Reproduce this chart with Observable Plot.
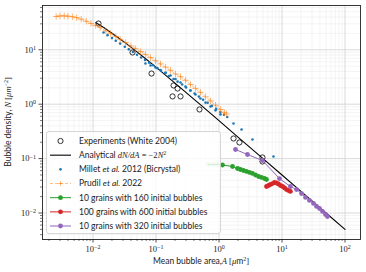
<!DOCTYPE html>
<html><head><meta charset="utf-8">
<script src="https://cdn.jsdelivr.net/npm/d3@7"></script>
<script src="https://cdn.jsdelivr.net/npm/@observablehq/plot@0.6"></script>
<style>
body{margin:0;background:#fff;}
#c{position:relative;width:366px;height:272px;}
</style></head><body><div id="c"></div>
<script>
// ---- data ----
const expA = [0.01223,0.0424,0.0849,0.190,0.220,0.183,0.245,0.490,1.70,2.11,4.90,4.90];
const expN = [30.4,8.92,3.66,2.21,1.94,1.39,1.39,0.80,0.234,0.198,0.105,0.0885];

const anaA = [0.011,0.015,0.02,0.03,0.05,0.07,0.1,0.2,0.5,1,2,5,10,20,50,100];
const anaN = [31.8,25.4,20.2,14.4,9.14,6.69,4.79,2.44,0.991,0.498,0.249,0.0999,0.05,0.025,0.01,0.005];

const milletA = [0.0147,0.017,0.02,0.023,0.027,0.032,0.037,0.043,0.05,0.058,0.067,0.078,0.09,0.105,0.12,0.14,0.16,0.19,0.22,0.26,0.30,0.35,0.41,0.48,0.56,0.66,0.77,0.9,1.05,1.2,1.35,1.70,2.28,3.40,7.33,
  0.068,0.082,0.098,0.118,0.142,0.170,0.204,0.245,0.294,0.353,0.424,0.508,0.611,0.733,0.88,1.056];
const milletN = [20.8,18.6,16.4,14.7,13.0,11.4,10.2,9.1,8.1,7.2,6.5,5.8,5.2,4.6,4.1,3.7,3.3,2.9,2.6,2.3,2.03,1.79,1.57,1.38,1.21,1.06,0.93,0.82,0.72,0.64,0.58,0.441,0.343,0.224,0.109,
  5.60,5.14,4.73,4.26,3.83,3.37,2.91,2.50,2.12,1.79,1.51,1.27,1.07,0.91,0.77,0.65];

const prudilA = [0.0026,0.003,0.0035,0.004,0.0047,0.0055,0.0065,0.0078,0.0093,0.011,0.013,0.016,0.019,0.023,0.027,0.033,0.04,0.047,0.057,0.068,0.082,0.098,0.118,0.142,0.17,0.204,0.245,0.294,0.353,0.424,0.508,0.611,0.733,0.88,1.06,1.22,1.31];
const prudilN = [41,42,42,41.5,40.5,39,36.5,33.5,30.5,28,25.5,22.3,19.8,17.5,15.6,13.6,11.8,10.6,9.3,8.2,7.2,6.3,5.5,4.8,4.2,3.6,3.2,2.75,2.3,1.95,1.65,1.37,1.15,0.96,0.80,0.70,0.66];

const greenA = [0.681,0.818,0.946,1.137,1.64,1.97,2.19,2.45,2.73,3.05,3.40,3.80,4.24,4.73,5.28,5.68];
const greenN = [0.078,0.078,0.078,0.0762,0.0716,0.0658,0.0631,0.0604,0.0580,0.0556,0.0533,0.0500,0.0469,0.0450,0.0431,0.0413];

const redA = [5.68,6.11,6.56,7.06,7.60,8.18,8.79,9.46,10.2,11.0,11.8,12.7,13.6];
const redN = [0.0307,0.0320,0.0334,0.0348,0.0364,0.0356,0.0341,0.0320,0.0307,0.0288,0.0270,0.0259,0.0249];

const purpleA = [1.83,2.83,4.90,9.12,13.6,17.0,20.4,23.6,27.3,31.6,35.3,39.4,44.0,49.0,52.7];
const purpleN = [0.147,0.119,0.0922,0.0430,0.0307,0.0270,0.0228,0.0193,0.0170,0.0150,0.0132,0.0121,0.0107,0.00938,0.00863];

const majorX = [0.01,0.1,1,10,100];
const majorY = [0.01,0.1,1,10];
const xExp = ["−2","−1","0","1","2"];
const yExp = ["−2","−1","0","1"];

const legendLabels = [
  [["Experiments (White 2004)",0]],
  [["Analytical ",0],["dN/dA",1],[" = −2",2],["N",1],["2",3]],
  [["Millet ",0],["et al.",4],[" 2012 (Bicrystal)",0]],
  [["Prudil ",0],["et al.",4],[" 2022",0]],
  [["10 grains with 160 initial bubbles",0]],
  [["100 grains with 600 initial bubbles",0]],
  [["10 grains with 320 initial bubbles",0]]
];

// ---- tables ----
const zip = (A, N) => A.map((a, i) => ({A: a, N: N[i]}));
const exp = zip(expA, expN), ana = zip(anaA, anaN), millet = zip(milletA, milletN),
      prudil = zip(prudilA, prudilN), green = zip(greenA, greenN), red = zip(redA, redN), purple = zip(purpleA, purpleN);

const minorX = [], minorY = [];
for (const d of [0.001,0.01,0.1,1,10,100]) for (let k = 2; k <= 9; k++) { minorX.push(d*k); minorY.push(d*k); }
const xDom = [0.001579, 176.2], yDom = [0.003258, 65.2];
const mX = minorX.filter(v => v > xDom[0] && v < xDom[1]);
const mY = minorY.filter(v => v > yDom[0] && v < yDom[1]);

const C = {blue:"#1f77b4", orange:"#ff7f0e", green:"#2ca02c", red:"#d62728", purple:"#9467bd"};
const SANS = "Lato, 'DejaVu Sans', sans-serif";
const SERIF = "'Liberation Serif', 'DejaVu Serif', serif";

const plot = Plot.plot({
  width: 366, height: 272,
  marginLeft: 42, marginRight: 6, marginTop: 5, marginBottom: 33,
  style: {fontFamily: SERIF, fontSize: "8.5px", background: "white"},
  x: {type: "log", domain: xDom, label: null},
  y: {type: "log", domain: yDom, label: null},
  marks: [
    Plot.ruleX(mX, {stroke: "#ececec", strokeWidth: 0.6}),
    Plot.ruleY(mY, {stroke: "#ececec", strokeWidth: 0.6}),
    Plot.ruleX(majorX, {stroke: "#d0d0d0", strokeWidth: 0.8}),
    Plot.ruleY(majorY, {stroke: "#d0d0d0", strokeWidth: 0.8}),
    Plot.dot(exp, {x: "A", y: "N", r: 2.6, stroke: "black", fill: "none", strokeWidth: 0.8}),
    Plot.line(ana, {x: "A", y: "N", stroke: "black", strokeWidth: 1.1}),
    Plot.dot(millet, {x: "A", y: "N", r: 1.3, fill: C.blue}),
    Plot.line(prudil, {x: "A", y: "N", stroke: C.orange, strokeOpacity: 0.5, strokeDasharray: "3,2", strokeWidth: 1}),
    Plot.dot(prudil, {x: "A", y: "N", symbol: "plus", r: 2.2, stroke: C.orange, strokeOpacity: 0.6, strokeWidth: 1}),
    Plot.line(green, {x: "A", y: "N", stroke: C.green, strokeWidth: 1}),
    Plot.dot(green, {x: "A", y: "N", r: 2.4, fill: C.green, fillOpacity: (d, i) => i < 3 ? 0.3 : 1}),
    Plot.line(red, {x: "A", y: "N", stroke: C.red, strokeWidth: 1}),
    Plot.dot(red, {x: "A", y: "N", r: 2.4, fill: C.red}),
    Plot.line(purple, {x: "A", y: "N", stroke: C.purple, strokeWidth: 1}),
    Plot.dot(purple, {x: "A", y: "N", r: 2.4, fill: C.purple}),
    Plot.axisX(mX, {tickSize: 2, text: null, stroke: "#222", strokeWidth: 0.6, label: null}),
    Plot.axisY(mY, {tickSize: 2, text: null, stroke: "#222", strokeWidth: 0.6, label: null}),
    Plot.axisX(majorX, {tickSize: 3.5, tickPadding: 3, stroke: "#222", strokeWidth: 0.8,
      tickFormat: d => "10^" + xExp[majorX.indexOf(d)], fill: "#222", label: null}),
    Plot.axisY(majorY, {tickSize: 3.5, tickPadding: 3, stroke: "#222", strokeWidth: 0.8,
      tickFormat: d => "10^" + yExp[majorY.indexOf(d)], fill: "#222", label: null}),
    Plot.frame({stroke: "#222", strokeWidth: 0.9})
  ]
});

document.getElementById("c").appendChild(plot);
const svg = d3.select(plot);

// superscript tick labels
svg.selectAll("text").each(function() {
  const t = d3.select(this);
  const tx = this.textContent;
  const m = /^10\^(.+)$/.exec(tx);
  if (!m) return;
  const tsp = t.selectAll("tspan");
  const target = tsp.empty() ? t : d3.select(tsp.nodes()[0]);
  target.text("10");
  target.append("tspan").attr("dy", "-0.45em").attr("font-size", "6px").text(m[1]);
});

// axis labels
const ylab = svg.append("text").attr("transform", "translate(11,122) rotate(-90)")
  .attr("text-anchor", "middle").attr("font-family", SANS).attr("font-size", "8.5px").attr("fill", "#222");
ylab.append("tspan").text("Bubble density, ");
ylab.append("tspan").attr("font-family", SERIF).attr("font-style", "italic").text("N");
ylab.append("tspan").attr("font-family", SERIF).text(" [");
ylab.append("tspan").attr("font-family", SERIF).attr("font-style", "italic").text("μm");
ylab.append("tspan").attr("font-family", SERIF).attr("font-size", "6px").attr("dy", "-0.5em").text("−2");
ylab.append("tspan").attr("font-family", SERIF).attr("dy", "0.35em").text("]");

const xlab = svg.append("text").attr("x", 201).attr("y", 264)
  .attr("text-anchor", "middle").attr("font-family", SANS).attr("font-size", "8.5px").attr("fill", "#222");
xlab.append("tspan").text("Mean bubble area,");
xlab.append("tspan").attr("font-family", SERIF).attr("font-style", "italic").text("A");
xlab.append("tspan").attr("font-family", SERIF).text(" [");
xlab.append("tspan").attr("font-family", SERIF).attr("font-style", "italic").text("μ");
xlab.append("tspan").text("m");
xlab.append("tspan").attr("font-family", SERIF).attr("font-size", "6px").attr("dy", "-0.5em").text("2");
xlab.append("tspan").attr("font-family", SERIF).attr("dy", "0.35em").text("]");

// legend
const lg = svg.append("g").attr("text-anchor", "start");
lg.append("rect").attr("x", 46.5).attr("y", 131.5).attr("width", 174).attr("height", 102).attr("rx", 2.5)
  .attr("fill", "white").attr("fill-opacity", 0.8).attr("stroke", "#cccccc").attr("stroke-width", 0.8);
const rowY = i => 141 + i * 14.17;
const hx0 = 50, hx1 = 71, hxm = 60.5;
// handles
lg.append("circle").attr("cx", hxm).attr("cy", rowY(0)).attr("r", 2.6).attr("fill", "none").attr("stroke", "black").attr("stroke-width", 0.8);
lg.append("line").attr("x1", hx0).attr("x2", hx1).attr("y1", rowY(1)).attr("y2", rowY(1)).attr("stroke", "black").attr("stroke-width", 1.1);
lg.append("circle").attr("cx", hxm).attr("cy", rowY(2)).attr("r", 1.3).attr("fill", C.blue);
lg.append("line").attr("x1", hx0).attr("x2", hx1).attr("y1", rowY(3)).attr("y2", rowY(3)).attr("stroke", C.orange).attr("stroke-opacity", 0.5).attr("stroke-dasharray", "3,2");
lg.append("path").attr("d", `M${hxm-2.2},${rowY(3)}h4.4M${hxm},${rowY(3)-2.2}v4.4`).attr("stroke", C.orange).attr("stroke-opacity", 0.6);
[C.green, C.red, C.purple].forEach((c, k) => {
  const y = rowY(4 + k);
  lg.append("line").attr("x1", hx0).attr("x2", hx1).attr("y1", y).attr("y2", y).attr("stroke", c).attr("stroke-width", 1);
  lg.append("circle").attr("cx", hxm).attr("cy", y).attr("r", 2.4).attr("fill", c);
});
legendLabels.forEach((segs, i) => {
  const t = lg.append("text").attr("x", 79).attr("y", rowY(i)).attr("dy", "0.35em").attr("text-anchor", "start")
    .attr("font-family", SANS).attr("font-size", "8.5px").attr("fill", "#222");
  segs.forEach(([s, kind]) => {
    const ts = t.append("tspan").text(s);
    if (kind === 1) ts.attr("font-family", SERIF).attr("font-style", "italic");
    if (kind === 2) ts.attr("font-family", SERIF);
    if (kind === 3) ts.attr("font-family", SERIF).attr("font-size", "6px").attr("dy", "-0.5em");
    if (kind === 4) ts.attr("font-style", "italic");
  });
});
</script>
</body></html>
